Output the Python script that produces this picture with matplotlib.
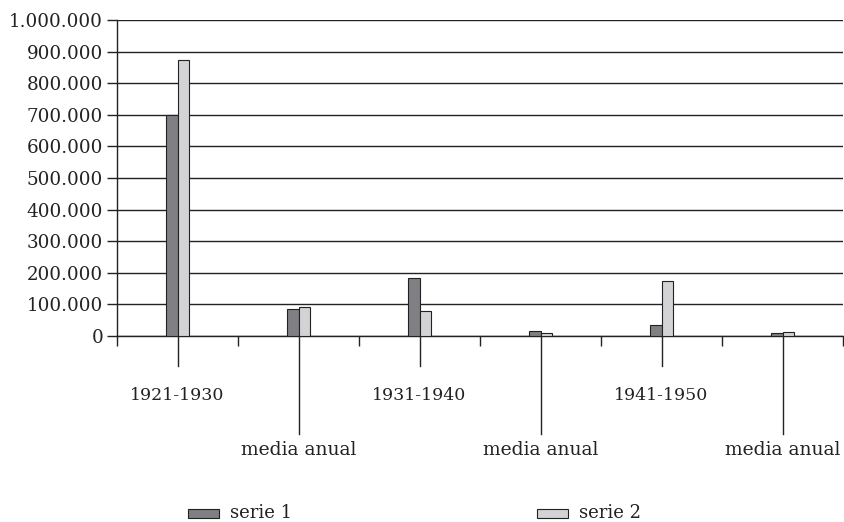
import numpy as np
import matplotlib.pyplot as plt
from matplotlib.patches import Rectangle

# Datos por periodo (total decenal y media anual)
categorias = ["1921-1930", "media anual", "1931-1940", "media anual", "1941-1950", "media anual"]
serie_1 = [700000, 84000, 184000, 16000, 34000, 9000]
serie_2 = [873000, 91000, 78000, 9500, 174000, 12000]
nombres_series = ["serie 1", "serie 2"]
ticks_y = [0, 100000, 200000, 300000, 400000, 500000, 600000, 700000, 800000, 900000, 1000000]

color_1 = "#808084"
color_2 = "#d3d3d5"
tinta = "#222222"
fuente = "DejaVu Serif"

fig = plt.figure(figsize=(8.44, 5.22), dpi=100)
ax = fig.add_axes([117 / 844, 186 / 522, 726 / 844, 316 / 522])

x = np.arange(len(categorias))
ancho = 0.095
ax.bar(x - ancho / 2, serie_1, width=ancho, color=color_1, edgecolor=tinta, linewidth=0.8, zorder=3)
ax.bar(x + ancho / 2, serie_2, width=ancho, color=color_2, edgecolor=tinta, linewidth=0.8, zorder=3)

ax.set_xlim(-0.5, len(categorias) - 0.5)
ax.set_ylim(0, 1000000)

# eje Y con separador de miles a la española
ax.set_yticks(ticks_y)
ax.set_yticklabels([f"{v:,}".replace(",", ".") for v in ticks_y], family=fuente, fontsize=13.2, color=tinta)
ax.tick_params(axis="y", length=7, width=1, color=tinta, pad=3)
ax.yaxis.grid(True, color=tinta, linewidth=1)
ax.set_axisbelow(True)

# eje X: marcas en los límites de cada categoría
ax.set_xticks(np.arange(len(categorias) + 1) - 0.5)
ax.set_xticklabels([])
ax.tick_params(axis="x", length=7, width=1, color=tinta)

for lado in ["top", "right"]:
    ax.spines[lado].set_visible(False)
ax.spines["left"].set_color(tinta)
ax.spines["bottom"].set_color(tinta)
ax.spines["left"].set_linewidth(1)
ax.spines["bottom"].set_linewidth(1)

# etiquetas alternadas con línea guía
trans = ax.get_xaxis_transform()
alto_px = 316
for i, cat in enumerate(categorias):
    if i % 2 == 0:
        fin_linea = -30 / alto_px
        y_texto = -60 / alto_px
        tam = 12.5
    else:
        fin_linea = -98 / alto_px
        y_texto = -114 / alto_px
        tam = 13.5
    ax.plot([i, i], [0, fin_linea], transform=trans, color=tinta, linewidth=1, clip_on=False)
    ax.text(i, y_texto, cat, transform=trans, ha="center", va="center",
            family=fuente, fontsize=tam, color=tinta)

# leyenda manual
for px, color, nombre in [(188, color_1, nombres_series[0]), (537, color_2, nombres_series[1])]:
    fig.patches.append(Rectangle((px / 844, (522 - 518) / 522), 31 / 844, 9 / 522,
                                 transform=fig.transFigure, facecolor=color,
                                 edgecolor=tinta, linewidth=0.8))
    fig.text((px + 42) / 844, (522 - 513) / 522, nombre, ha="left", va="center",
             family=fuente, fontsize=13, color=tinta)

fig.savefig("out.png", dpi=100, facecolor="white")
